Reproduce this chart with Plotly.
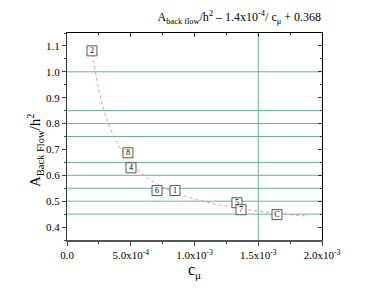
import plotly.graph_objects as go

# data points (labels and positions)
labels = ["2", "8", "4", "6", "1", "5", "7", "C"]
c_mu = [0.196e-3, 0.478e-3, 0.502e-3, 0.706e-3, 0.847e-3, 1.333e-3, 1.365e-3, 1.647e-3]
a_back = [1.081, 0.687, 0.629, 0.541, 0.541, 0.494, 0.467, 0.448]

# fit: A/h^2 = a / c_mu + b
fit_a = 1.4e-4
fit_b = 0.368
fit_c = [0.2e-3 + i * 0.02e-3 for i in range(85)]
fit_y = [fit_a / c + fit_b for c in fit_c]

# reference lines
hlines = [1.0, 0.85, 0.8, 0.75, 0.65, 0.6, 0.55, 0.5, 0.45]
vlines = [1.5e-3]

x_tickvals = [0, 0.5e-3, 1.0e-3, 1.5e-3, 2.0e-3]
x_ticktext = ["0.0", "5.0x10<sup>-4</sup>", "1.0x10<sup>-3</sup>", "1.5x10<sup>-3</sup>", "2.0x10<sup>-3</sup>"]
x_minor = [0.25e-3, 0.75e-3, 1.25e-3, 1.75e-3]
y_tickvals = [0.4, 0.5, 0.6, 0.7, 0.8, 0.9, 1.0, 1.1]
y_ticktext = ["0.4", "0.5", "0.6", "0.7", "0.8", "0.9", "1.0", "1.1"]
y_minor = [0.35, 0.45, 0.55, 0.65, 0.75, 0.85, 0.95, 1.05, 1.15]

FONT = "Liberation Serif, Times New Roman, serif"
GREEN = "#5fb89a"

fig = go.Figure()

for h in hlines:
    fig.add_shape(type="line", xref="x domain", yref="y", x0=0, x1=1, y0=h, y1=h,
                  line=dict(color=GREEN, width=1), layer="below")
for v in vlines:
    fig.add_shape(type="line", xref="x", yref="y domain", x0=v, x1=v, y0=0, y1=1,
                  line=dict(color=GREEN, width=1), layer="below")

fig.add_trace(go.Scatter(
    x=fit_c, y=fit_y, mode="lines",
    line=dict(color="#ff88a8", width=1, dash="dot"),
    hoverinfo="skip", showlegend=False))

fig.add_trace(go.Scatter(
    x=c_mu, y=a_back, mode="markers+text",
    text=labels, textposition="middle center",
    textfont=dict(family=FONT, size=8, color="black"),
    marker=dict(symbol="square", size=10, color="white",
                line=dict(color="#555555", width=1)),
    showlegend=False))

# invisible trace for the mirrored axes
fig.add_trace(go.Scatter(x=[None], y=[None], xaxis="x2", yaxis="y2",
                         showlegend=False, hoverinfo="skip"))

xr = [0, 2.0e-3]
yr = [0.35, 1.15]

W, H = 366, 280

fig.add_annotation(
    text="A<sub>Back Flow</sub>/h<sup>2</sup>", textangle=-90,
    xref="paper", yref="paper", x=-0.125, y=0.435,
    xanchor="center", yanchor="middle", showarrow=False,
    font=dict(family=FONT, size=15, color="black"))

fig.update_layout(
    width=W, height=H,
    margin=dict(l=59, r=52, t=25, b=48, autoexpand=False),
    paper_bgcolor="white", plot_bgcolor="white",
    font=dict(family=FONT, size=11, color="black"),
    title=dict(
        text="A<sub>back flow</sub>/h<sup>2</sup> \u2013 1.4x10<sup>-4</sup>/ c<sub>\u03bc</sub> + 0.368",
        x=313 / W, xanchor="right", xref="container",
        y=1 - 9 / H, yanchor="middle",
        font=dict(family=FONT, size=12, color="black")),
    xaxis=dict(
        range=xr, tickmode="array", tickvals=x_tickvals, ticktext=x_ticktext,
        ticks="outside", ticklen=4, tickcolor="#444", showline=True,
        linecolor="#555", linewidth=2, showgrid=False, zeroline=False,
        automargin=False,
        tickfont=dict(family=FONT, size=11),
        minor=dict(tickmode="array", tickvals=x_minor, ticks="outside",
                   ticklen=2, tickcolor="#444"),
        title=dict(text="c<sub>\u03bc</sub>", font=dict(family=FONT, size=16), standoff=3)),
    yaxis=dict(
        range=yr, tickmode="array", tickvals=y_tickvals, ticktext=y_ticktext,
        ticks="outside", ticklen=4, tickcolor="#444", showline=True,
        linecolor="#333", linewidth=1, showgrid=False, zeroline=False,
        automargin=False,
        tickfont=dict(family=FONT, size=11),
        minor=dict(tickmode="array", tickvals=y_minor, ticks="outside",
                   ticklen=2, tickcolor="#444")),
    xaxis2=dict(
        range=xr, overlaying="x", side="top", tickmode="array",
        tickvals=x_tickvals, showticklabels=False, ticks="inside", ticklen=4,
        tickcolor="#333", showline=True, linecolor="black", linewidth=1,
        showgrid=False, zeroline=False, automargin=False,
        minor=dict(tickmode="array", tickvals=x_minor, ticks="inside",
                   ticklen=2, tickcolor="#333")),
    yaxis2=dict(
        range=yr, overlaying="y", side="right", tickmode="array",
        tickvals=y_tickvals, showticklabels=False, ticks="inside", ticklen=4,
        tickcolor="#333", showline=True, linecolor="black", linewidth=1,
        showgrid=False, zeroline=False, automargin=False,
        minor=dict(tickmode="array", tickvals=y_minor, ticks="inside",
                   ticklen=2, tickcolor="#333")),
)

fig.write_html("out.html")
